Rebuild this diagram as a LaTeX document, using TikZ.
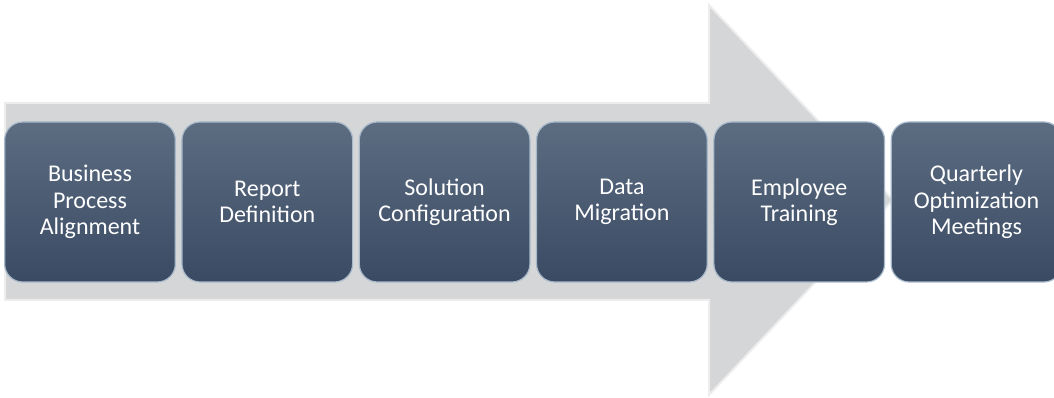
\documentclass[tikz,border=0pt]{standalone}
\usepackage{fontspec}
\setmainfont{Carlito}

\definecolor{stageTop}{HTML}{5C6D82}
\definecolor{stageBottom}{HTML}{3A4A63}
\definecolor{stageEdge}{HTML}{A7B8C9}
\definecolor{flowGrey}{HTML}{D5D6D8}
\definecolor{flowEdge}{HTML}{EDEDED}

\begin{document}
\begin{tikzpicture}[x=1pt,y=1pt]
\tikzset{node distance=177.3pt,
    stage/.style={rectangle, rounded corners=18pt, draw=stageEdge, line width=1.2pt,
        top color=stageTop, bottom color=stageBottom,
        minimum height=160pt, minimum width=168pt, text width=164pt,
        align=center, text=white, font=\fontsize{24}{26.4}\selectfont},
    flow/.style={fill=flowGrey, draw=flowEdge, line width=2pt}
}
  \useasboundingbox (0,0) rectangle (1054,398);

  % big arrow behind the stages
  \draw[flow] (5,98) -- (5,295) -- (709,295) -- (709,393) -- (893,198)
     -- (709,3) -- (709,98) -- cycle;

  \node[stage] (align) at (90,196) {Business\\Process\\Alignment};
  \node[stage, right of=align] (report) {Report\\Definition};
  \node[stage, right of=report] (config) {Solution\\Configuration};
  \node[stage, right of=config] (migrate) {Data\\Migration};
  \node[stage, right of=migrate] (train) {Employee\\Training};
  \node[stage, right of=train] (meet) {Quarterly\\Optimization\\Meetings};
\end{tikzpicture}
\end{document}
